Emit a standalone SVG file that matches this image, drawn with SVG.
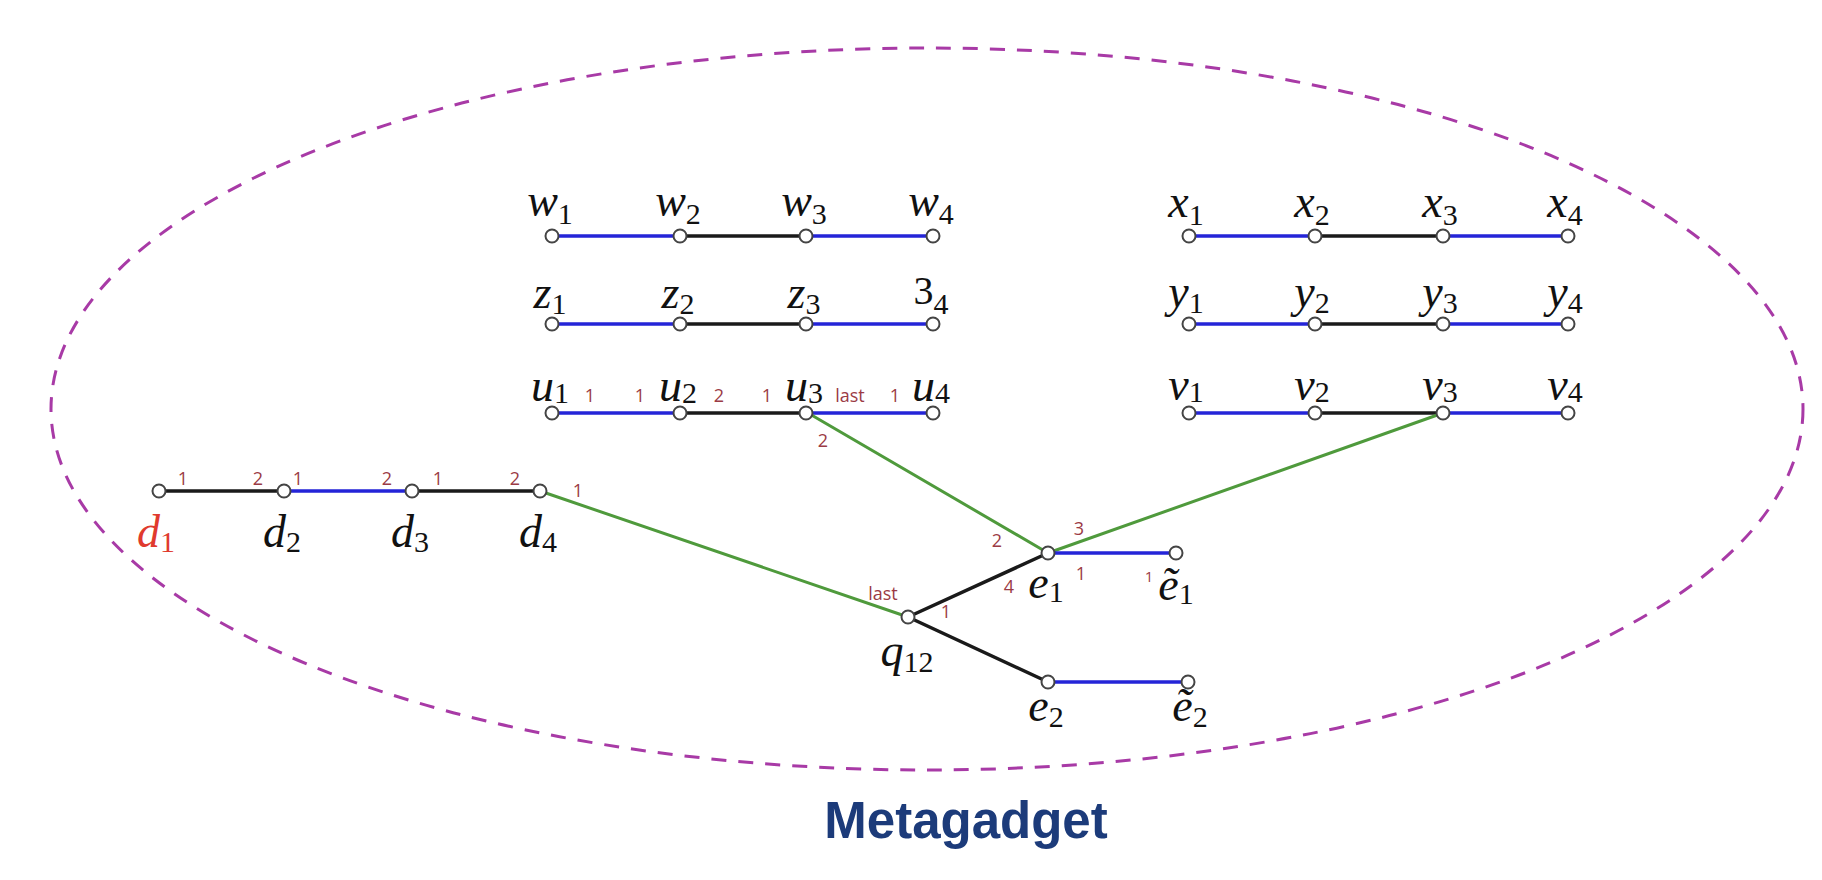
<svg xmlns="http://www.w3.org/2000/svg" width="1822" height="880" viewBox="0 0 1822 880">
<style>
.e{stroke-width:3.5;stroke-linecap:round;fill:none}
.b{stroke:#2424d8}
.k{stroke:#1a1a1a}
.g{stroke:#4f9a3c;stroke-width:3}
.n{fill:#fff;stroke:#444;stroke-width:2}
.lb{font-family:"Liberation Serif",serif;font-style:italic;font-size:46px;fill:#111;text-anchor:middle}
.sb{font-style:normal;font-size:30px}
.p{font-family:"Open Sans","Liberation Sans",sans-serif;font-size:18px;fill:#9b3b45;text-anchor:middle}
.title{font-family:"Liberation Sans",Arial,sans-serif;font-weight:bold;font-size:51px;fill:#1c3b7a;text-anchor:middle}
</style>
<rect width="1822" height="880" fill="#fff"/>
<ellipse cx="927" cy="409" rx="876" ry="361" fill="none" stroke="#a83aa6" stroke-width="3" stroke-dasharray="15 12"/>

<g id="connectors">
<line class="e b" x1="552" y1="236" x2="680" y2="236"/>
<line class="e k" x1="680" y1="236" x2="806" y2="236"/>
<line class="e b" x1="806" y1="236" x2="933" y2="236"/>
<line class="e b" x1="552" y1="324" x2="680" y2="324"/>
<line class="e k" x1="680" y1="324" x2="806" y2="324"/>
<line class="e b" x1="806" y1="324" x2="933" y2="324"/>
<line class="e b" x1="552" y1="413" x2="680" y2="413"/>
<line class="e k" x1="680" y1="413" x2="806" y2="413"/>
<line class="e b" x1="806" y1="413" x2="933" y2="413"/>
<line class="e b" x1="1189" y1="236" x2="1315" y2="236"/>
<line class="e k" x1="1315" y1="236" x2="1443" y2="236"/>
<line class="e b" x1="1443" y1="236" x2="1568" y2="236"/>
<line class="e b" x1="1189" y1="324" x2="1315" y2="324"/>
<line class="e k" x1="1315" y1="324" x2="1443" y2="324"/>
<line class="e b" x1="1443" y1="324" x2="1568" y2="324"/>
<line class="e b" x1="1189" y1="413" x2="1315" y2="413"/>
<line class="e k" x1="1315" y1="413" x2="1443" y2="413"/>
<line class="e b" x1="1443" y1="413" x2="1568" y2="413"/>
<line class="e k" x1="159" y1="491" x2="284" y2="491"/>
<line class="e b" x1="284" y1="491" x2="412" y2="491"/>
<line class="e k" x1="412" y1="491" x2="540" y2="491"/>
<line class="e g" x1="540" y1="491" x2="908" y2="617"/>
<line class="e g" x1="808" y1="413" x2="1048" y2="553"/>
<line class="e g" x1="1443" y1="413" x2="1048" y2="553"/>
<line class="e k" x1="908" y1="617" x2="1048" y2="553"/>
<line class="e k" x1="908" y1="617" x2="1048" y2="682"/>
<line class="e b" x1="1048" y1="553" x2="1176" y2="553"/>
<line class="e b" x1="1048" y1="682" x2="1188" y2="682"/>
</g>

<g id="row-w">
<circle class="n" cx="552" cy="236" r="6.5"/><circle class="n" cx="680" cy="236" r="6.5"/><circle class="n" cx="806" cy="236" r="6.5"/><circle class="n" cx="933" cy="236" r="6.5"/>
<text class="lb" x="550" y="216">w<tspan class="sb" dy="8">1</tspan></text>
<text class="lb" x="678" y="216">w<tspan class="sb" dy="8">2</tspan></text>
<text class="lb" x="804" y="216">w<tspan class="sb" dy="8">3</tspan></text>
<text class="lb" x="931" y="216">w<tspan class="sb" dy="8">4</tspan></text>
</g>
<g id="row-z">
<circle class="n" cx="552" cy="324" r="6.5"/><circle class="n" cx="680" cy="324" r="6.5"/><circle class="n" cx="806" cy="324" r="6.5"/><circle class="n" cx="933" cy="324" r="6.5"/>
<text class="lb" x="550" y="308">z<tspan class="sb" dy="6">1</tspan></text>
<text class="lb" x="678" y="308">z<tspan class="sb" dy="6">2</tspan></text>
<text class="lb" x="804" y="308">z<tspan class="sb" dy="6">3</tspan></text>
<text class="lb" x="931" y="304"><tspan font-style="normal" font-size="40">3</tspan><tspan class="sb" dy="10">4</tspan></text>
</g>
<g id="row-u">
<circle class="n" cx="552" cy="413" r="6.5"/><circle class="n" cx="680" cy="413" r="6.5"/><circle class="n" cx="806" cy="413" r="6.5"/><circle class="n" cx="933" cy="413" r="6.5"/>
<text class="lb" x="550" y="401">u<tspan class="sb" dy="2">1</tspan></text>
<text class="lb" x="678" y="401">u<tspan class="sb" dy="2">2</tspan></text>
<text class="lb" x="804" y="401">u<tspan class="sb" dy="2">3</tspan></text>
<text class="lb" x="931" y="401">u<tspan class="sb" dy="2">4</tspan></text>
<text class="p" x="590" y="402">1</text><text class="p" x="640" y="402">1</text>
<text class="p" x="719" y="402">2</text><text class="p" x="767" y="402">1</text>
<text class="p" x="850" y="402">last</text><text class="p" x="895" y="402">1</text>
<text class="p" x="823" y="447">2</text>
</g>
<g id="row-x">
<circle class="n" cx="1189" cy="236" r="6.5"/><circle class="n" cx="1315" cy="236" r="6.5"/><circle class="n" cx="1443" cy="236" r="6.5"/><circle class="n" cx="1568" cy="236" r="6.5"/>
<text class="lb" x="1186" y="217">x<tspan class="sb" dy="8">1</tspan></text>
<text class="lb" x="1312" y="217">x<tspan class="sb" dy="8">2</tspan></text>
<text class="lb" x="1440" y="217">x<tspan class="sb" dy="8">3</tspan></text>
<text class="lb" x="1565" y="217">x<tspan class="sb" dy="8">4</tspan></text>
</g>
<g id="row-y">
<circle class="n" cx="1189" cy="324" r="6.5"/><circle class="n" cx="1315" cy="324" r="6.5"/><circle class="n" cx="1443" cy="324" r="6.5"/><circle class="n" cx="1568" cy="324" r="6.5"/>
<text class="lb" x="1186" y="307">y<tspan class="sb" dy="6">1</tspan></text>
<text class="lb" x="1312" y="307">y<tspan class="sb" dy="6">2</tspan></text>
<text class="lb" x="1440" y="307">y<tspan class="sb" dy="6">3</tspan></text>
<text class="lb" x="1565" y="307">y<tspan class="sb" dy="6">4</tspan></text>
</g>
<g id="row-v">
<circle class="n" cx="1189" cy="413" r="6.5"/><circle class="n" cx="1315" cy="413" r="6.5"/><circle class="n" cx="1443" cy="413" r="6.5"/><circle class="n" cx="1568" cy="413" r="6.5"/>
<text class="lb" x="1186" y="400">v<tspan class="sb" dy="2">1</tspan></text>
<text class="lb" x="1312" y="400">v<tspan class="sb" dy="2">2</tspan></text>
<text class="lb" x="1440" y="400">v<tspan class="sb" dy="2">3</tspan></text>
<text class="lb" x="1565" y="400">v<tspan class="sb" dy="2">4</tspan></text>
</g>
<g id="row-d">
<circle class="n" cx="159" cy="491" r="6.5"/><circle class="n" cx="284" cy="491" r="6.5"/><circle class="n" cx="412" cy="491" r="6.5"/><circle class="n" cx="540" cy="491" r="6.5"/>
<text class="lb" x="156" y="547" style="fill:#e03a2e">d<tspan class="sb" dy="5">1</tspan></text>
<text class="lb" x="282" y="547">d<tspan class="sb" dy="5">2</tspan></text>
<text class="lb" x="410" y="547">d<tspan class="sb" dy="5">3</tspan></text>
<text class="lb" x="538" y="547">d<tspan class="sb" dy="5">4</tspan></text>
<text class="p" x="183" y="485">1</text><text class="p" x="258" y="485">2</text>
<text class="p" x="298" y="485">1</text><text class="p" x="387" y="485">2</text>
<text class="p" x="438" y="485">1</text><text class="p" x="515" y="485">2</text>
<text class="p" x="578" y="497">1</text>
</g>
<g id="q12">
<circle class="n" cx="908" cy="617" r="6.5"/>
<text class="lb" x="907" y="666">q<tspan class="sb" dy="6">12</tspan></text>
<text class="p" x="883" y="600">last</text>
<text class="p" x="946" y="618">1</text>
</g>
<g id="e1">
<circle class="n" cx="1048" cy="553" r="6.5"/>
<text class="lb" x="1046" y="598">e<tspan class="sb" dy="4">1</tspan></text>
<text class="p" x="997" y="547">2</text>
<text class="p" x="1079" y="535">3</text>
<text class="p" x="1081" y="580">1</text>
<text class="p" x="1009" y="593">4</text>
</g>
<g id="e1t">
<circle class="n" cx="1176" cy="553" r="6.5"/>
<text class="lb" x="1176" y="600">ẽ<tspan class="sb" dy="4">1</tspan></text>
<text class="p" x="1149" y="582" style="font-size:15px">1</text>
</g>
<g id="e2">
<circle class="n" cx="1048" cy="682" r="6.5"/>
<text class="lb" x="1046" y="721">e<tspan class="sb" dy="6">2</tspan></text>
</g>
<g id="e2t">
<circle class="n" cx="1188" cy="682" r="6.5"/>
<text class="lb" x="1190" y="721">ẽ<tspan class="sb" dy="6">2</tspan></text>
</g>
<text class="title" x="966" y="838">Metagadget</text>
</svg>
